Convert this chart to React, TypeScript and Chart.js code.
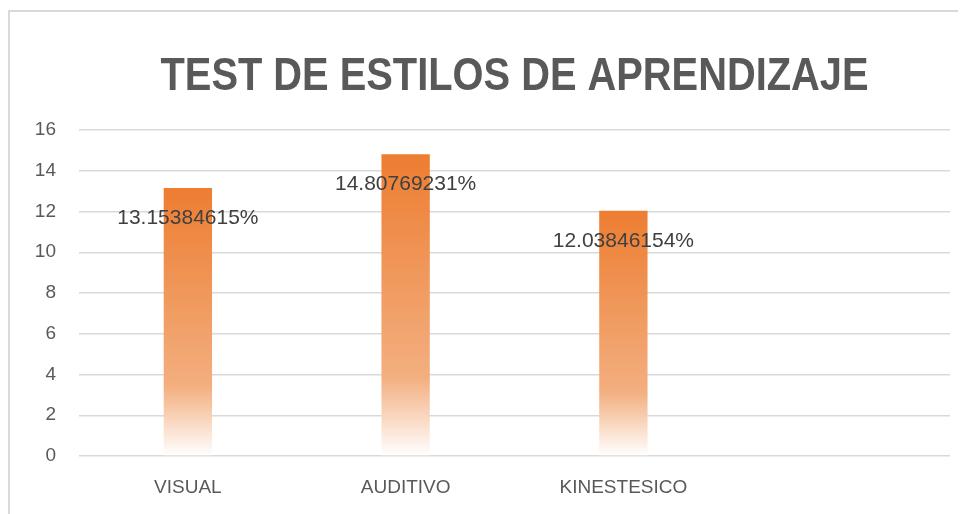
import React, { useEffect, useRef } from "react";
import { Chart, registerables } from "chart.js";

Chart.register(...registerables);

const TITLE = "TEST DE ESTILOS DE APRENDIZAJE";
const categories = ["VISUAL", "AUDITIVO", "KINESTESICO", ""];
const values: (number | null)[] = [13.15384615, 14.80769231, 12.03846154, null];
const yTicks = [0, 2, 4, 6, 8, 10, 12, 14, 16];

const titlePlugin = {
  id: "narrowTitle",
  afterDraw(chart: any) {
    const ctx = chart.ctx;
    const area = chart.chartArea;
    const cx = (area.left + area.right) / 2;
    ctx.save();
    ctx.font = "bold 47px 'Liberation Sans', Arial, sans-serif";
    ctx.fillStyle = "#595959";
    ctx.textAlign = "center";
    ctx.textBaseline = "alphabetic";
    const w = ctx.measureText(TITLE).width;
    const sx = 708 / w;
    ctx.translate(cx, 78);
    ctx.scale(sx, 1);
    ctx.fillText(TITLE, 0, 0);
    ctx.restore();
  },
};

const barLabelPlugin = {
  id: "barLabels",
  afterDatasetsDraw(chart: any) {
    const ctx = chart.ctx;
    const meta = chart.getDatasetMeta(0);
    ctx.save();
    ctx.font = "21px 'Liberation Sans', Arial, sans-serif";
    ctx.fillStyle = "#404040";
    ctx.textAlign = "center";
    ctx.textBaseline = "middle";
    meta.data.forEach((bar: any, i: number) => {
      const v = values[i];
      if (v === null || v === undefined) return;
      ctx.fillText(v.toFixed(8) + "%", bar.x, bar.y + 30);
    });
    ctx.restore();
  },
};

export default function App() {
  const ref = useRef<HTMLCanvasElement | null>(null);
  useEffect(() => {
    if (!ref.current) return;
    const chart = new Chart(ref.current, {
      type: "bar",
      data: {
        labels: categories,
        datasets: [
          {
            data: values,
            backgroundColor: (c: any) => {
              const ch = c.chart;
              if (!ch.chartArea || c.raw == null) return "#ED7D31";
              const ys = ch.scales.y;
              const top = ys.getPixelForValue(c.raw);
              const bottom = ys.getPixelForValue(0);
              const g = ch.ctx.createLinearGradient(0, top, 0, bottom);
              g.addColorStop(0, "#ED7D31");
              g.addColorStop(0.74, "#F3AF80");
              g.addColorStop(1, "#FFFFFF");
              return g;
            },
            borderWidth: 0,
            categoryPercentage: 1,
            barPercentage: 0.222,
          },
        ],
      },
      options: {
        responsive: false,
        animation: false,
        layout: { padding: { top: 118, right: 16, left: 0, bottom: 0 } },
        plugins: {
          legend: { display: false },
          tooltip: { enabled: false },
          title: { display: false },
        },
        scales: {
          x: {
            grid: { display: false, drawTicks: false },
            border: { display: false },
            ticks: {
              color: "#595959",
              padding: 20,
              font: { family: "'Liberation Sans', Arial, sans-serif", size: 19 },
              maxRotation: 0,
            },
            afterFit: (s: any) => {
              s.height = 58;
            },
          },
          y: {
            min: 0,
            max: 16,
            afterBuildTicks: (s: any) => {
              s.ticks = yTicks.map((v) => ({ value: v }));
            },
            grid: {
              color: "#d9d9d9",
              lineWidth: 1.5,
              drawTicks: false,
            },
            border: { display: false },
            ticks: {
              color: "#595959",
              padding: 23,
              font: { family: "'Liberation Sans', Arial, sans-serif", size: 19 },
            },
            afterFit: (s: any) => {
              s.width = 69;
            },
          },
        },
      },
      plugins: [barLabelPlugin, titlePlugin],
    });
    return () => chart.destroy();
  }, []);

  return (
    <div
      style={{
        marginTop: 2,
        width: 958,
        height: 504,
        borderTop: "2px solid #d9d9d9",
        borderLeft: "2px solid #d9d9d9",
        boxSizing: "border-box",
        background: "#fff",
        overflow: "hidden",
      }}
    >
      <canvas ref={ref} width={956} height={502} style={{ display: "block" }} />
    </div>
  );
}
